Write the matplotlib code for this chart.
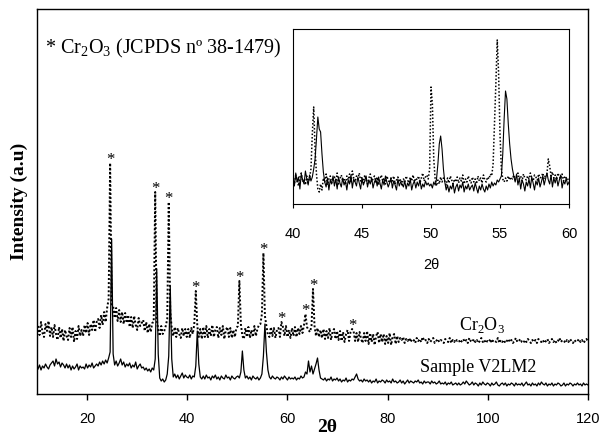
import numpy as np
import matplotlib
matplotlib.use('Agg')
import matplotlib.pyplot as plt

# scan grid of the main pattern (2theta, step 0.3)
two_theta = np.linspace(10.2, 120.0, 367)

# Cr2O3 reference pattern (dotted), arbitrary units
cr2o3 = [
    68, 59, 72, 61, 57, 70, 63, 73, 58, 67,
    57, 69, 60, 54, 67, 56, 65, 53, 64, 58,
    54, 66, 57, 67, 52, 63, 55, 68, 58, 64,
    58, 69, 61, 71, 59, 70, 64, 74, 62, 72,
    75, 66, 79, 69, 82, 72, 86, 95, 231, 90,
    88, 76, 86, 73, 84, 72, 82, 70, 81, 71,
    79, 67, 77, 66, 78, 69, 64, 76, 68, 71,
    74, 63, 72, 61, 70, 62, 71, 72, 202, 75,
    64, 58, 68, 60, 63, 68, 75, 192, 82, 66,
    58, 67, 57, 66, 60, 56, 66, 58, 65, 57,
    65, 56, 66, 60, 70, 103, 68, 57, 65, 55,
    67, 57, 68, 56, 65, 58, 69, 57, 64, 67,
    56, 66, 59, 68, 55, 64, 67, 57, 66, 56,
    64, 57, 66, 68, 113, 70, 58, 55, 66, 57,
    67, 56, 64, 57, 68, 58, 65, 69, 70, 80,
    141, 78, 68, 59, 57, 67, 58, 66, 56, 64,
    66, 57, 72, 67, 58, 68, 57, 64, 56, 66,
    58, 67, 57, 66, 60, 68, 61, 69, 80, 67,
    64, 62, 68, 105, 68, 58, 66, 57, 64, 56,
    65, 55, 63, 56, 66, 54, 62, 65, 55, 63,
    54, 63, 53, 62, 52, 60, 64, 53, 62, 65,
    63, 53, 61, 52, 62, 55, 51, 61, 53, 63,
    50, 61, 52, 60, 49, 58, 62, 51, 60, 52,
    60, 50, 58, 51, 61, 49, 57, 60, 50, 58,
    52, 56, 54, 57, 51, 55, 53, 56, 52, 55,
    54, 51, 56, 53, 55, 52, 57, 53, 54, 51,
    55, 52, 54, 56, 51, 53, 55, 52, 54, 53,
    51, 55, 53, 52, 56, 51, 54, 52, 55, 53,
    54, 51, 53, 55, 52, 54, 51, 56, 53, 52,
    55, 52, 54, 51, 53, 56, 52, 54, 51, 53,
    52, 55, 51, 54, 53, 52, 56, 51, 54, 52,
    54, 51, 53, 55, 52, 54, 51, 53, 56, 52,
    53, 55, 52, 51, 54, 52, 55, 53, 51, 54,
    52, 54, 51, 55, 53, 52, 54, 51, 53, 55,
    51, 53, 55, 52, 54, 51, 53, 56, 52, 54,
    53, 51, 54, 52, 55, 53, 51, 54, 52, 53,
    55, 52, 54, 51, 53, 55, 52,
]

# sample V2LM2 (solid)
v2lm2 = [
    25, 29, 24, 28, 26, 30, 27, 25, 29, 31,
    33, 28, 35, 30, 32, 27, 31, 29, 26, 30,
    26, 29, 24, 28, 25, 27, 30, 24, 28, 26,
    27, 25, 30, 26, 29, 27, 31, 26, 28, 30,
    28, 32, 29, 33, 30, 34, 31, 36, 42, 155,
    40, 29, 33, 28, 31, 35, 29, 32, 27, 30,
    28, 31, 26, 29, 27, 32, 25, 28, 30, 26,
    27, 24, 26, 23, 25, 22, 26, 24, 35, 125,
    40, 16, 13, 15, 12, 14, 20, 38, 108, 35,
    17, 20, 16, 19, 15, 18, 21, 16, 19, 17,
    16, 19, 15, 18, 17, 28, 63, 30, 17, 15,
    18, 15, 19, 16, 17, 14, 18, 16, 19, 15,
    17, 14, 18, 16, 15, 19, 16, 17, 14, 18,
    16, 15, 17, 18, 16, 22, 43, 24, 16, 18,
    15, 17, 14, 18, 16, 15, 17, 14, 16, 20,
    38, 70, 42, 24, 17, 15, 18, 16, 15, 17,
    16, 14, 17, 15, 18, 16, 14, 17, 15, 16,
    15, 17, 14, 16, 15, 18, 16, 17, 22, 20,
    33, 22, 28, 20, 25, 30, 36, 24, 16, 15,
    14, 16, 13, 15, 14, 17, 13, 15, 14, 16,
    13, 15, 12, 14, 13, 16, 12, 14, 13, 15,
    14, 17, 20, 15, 13, 14, 12, 15, 13, 14,
    12, 14, 11, 13, 12, 15, 11, 13, 12, 14,
    13, 11, 14, 12, 13, 11, 15, 12, 13, 11,
    12, 14, 11, 13, 10, 12, 14, 11, 13, 12,
    11, 13, 12, 14, 11, 12, 10, 13, 11, 12,
    12, 10, 13, 11, 12, 10, 11, 13, 10, 11,
    10, 12, 9, 11, 10, 12, 9, 10, 11, 9,
    11, 9, 10, 12, 10, 13, 11, 9, 10, 12,
    9, 11, 10, 8, 11, 9, 12, 10, 9, 11,
    10, 8, 11, 9, 10, 12, 9, 8, 10, 11,
    9, 11, 8, 10, 9, 11, 10, 8, 11, 9,
    10, 9, 11, 8, 10, 12, 9, 10, 8, 11,
    9, 10, 8, 11, 9, 12, 10, 9, 11, 8,
    10, 9, 11, 8, 10, 9, 11, 10, 8, 9,
    11, 8, 10, 9, 11, 10, 8, 10, 9, 11,
    9, 10, 8, 11, 9, 10, 9,
]

cr2o3_peaks = [24.6, 33.6, 36.3, 41.7, 50.4, 55.2, 58.8, 63.6, 65.1, 72.9]

# inset, 40-60 deg, step 0.1
inset_theta = np.linspace(40.0, 60.0, 201)
inset_cr2o3 = [
    26, 20, 29, 23, 18, 27, 31, 22, 25, 19,
    28, 21, 26, 35, 70, 97, 55, 30, 15, 12,
    20, 14, 26, 22, 30, 19, 25, 28, 21, 24,
    27, 22, 31, 20, 25, 29, 23, 26, 19, 28,
    24, 30, 21, 33, 26, 22, 28, 25, 31, 23,
    27, 21, 29, 24, 20, 26, 30, 22, 25, 28,
    22, 27, 19, 25, 29, 23, 26, 20, 28, 24,
    21, 26, 23, 28, 20, 24, 27, 22, 25, 19,
    25, 22, 28, 24, 21, 27, 23, 29, 22, 26,
    24, 28, 21, 26, 31, 23, 27, 29, 25, 35,
    117, 100, 45, 25, 18, 24, 20, 27, 22, 26,
    23, 19, 26, 21, 28, 24, 20, 25, 22, 27,
    21, 26, 23, 29, 20, 25, 22, 28, 24, 21,
    27, 22, 25, 20, 28, 23, 26, 21, 29, 24,
    22, 27, 25, 30, 28, 40, 80, 120, 164, 130,
    70, 35, 25, 22, 26, 23, 28, 24, 27, 25,
    29, 24, 27, 31, 25, 28, 23, 30, 26, 24,
    28, 25, 31, 26, 23, 29, 27, 24, 30, 26,
    27, 31, 25, 29, 30, 45, 38, 28, 32, 26,
    29, 24, 31, 27, 25, 30, 23, 28, 26, 24,
    27,
]
inset_v2lm2 = [
    28, 18, 31, 22, 27, 15, 30, 24, 20, 33,
    25, 19, 29, 23, 27, 35, 45, 65, 87, 75,
    72, 50, 32, 22, 17, 26, 14, 24, 20, 28,
    18, 25, 15, 27, 21, 17, 26, 19, 23, 14,
    24, 20, 29, 16, 25, 22, 18, 27, 21, 15,
    26, 19, 23, 28, 17, 24, 20, 26, 16, 22,
    25, 18, 27, 21, 15, 24, 19, 28, 22, 17,
    21, 26, 16, 23, 19, 14, 25, 18, 22, 20,
    17, 23, 15, 21, 18, 25, 14, 20, 23, 16,
    22, 18, 24, 15, 20, 17, 23, 19, 21, 18,
    20, 16, 22, 19, 25, 40, 60, 68, 55, 35,
    22, 14, 19, 12, 18, 15, 21, 11, 17, 20,
    13, 19, 16, 22, 12, 18, 15, 20, 14, 17,
    19, 13, 21, 16, 11, 18, 14, 20, 15, 12,
    18, 14, 20, 16, 22, 18, 21, 19, 24, 22,
    25, 28, 50, 85, 113, 105, 80, 60, 45, 35,
    28, 22, 30, 19, 26, 15, 24, 20, 13, 22,
    18, 25, 16, 27, 21, 14, 23, 19, 26, 17,
    22, 28, 19, 25, 31, 24, 20, 29, 17, 26,
    21, 27, 18, 24, 29, 16, 23, 20, 26, 19,
    22,
]

plt.rcParams['font.family'] = 'Liberation Serif'
plt.rcParams['mathtext.fontset'] = 'custom'
plt.rcParams['mathtext.rm'] = 'Liberation Serif'
W, H = 601, 439

fig = plt.figure(figsize=(W / 100, H / 100), dpi=100)
ax = fig.add_axes([37 / W, 44 / H, 551 / W, 385 / H])
ax.plot(two_theta, v2lm2, color='black', lw=0.9)
ax.plot(two_theta, cr2o3, color='black', lw=1.4, linestyle=(0, (1, 1.1)))
ax.set_xlim(10, 120)
ax.set_ylim(0, 385)
ax.set_yticks([])
ax.set_xticks([20, 40, 60, 80, 100, 120])
ax.tick_params(axis='x', direction='out', length=4, width=1, pad=8, labelsize=10.5)
for lab in ax.get_xticklabels():
    lab.set_fontfamily('Liberation Sans')
for s in ax.spines.values():
    s.set_linewidth(1.0)

for p in cr2o3_peaks:
    ax.text(p, np.interp(p, two_theta, cr2o3), '*', ha='center', va='baseline', fontsize=12)

fig.text(45 / W, 1 - 48 / H, r'* Cr$_\mathregular{2}$O$_\mathregular{3}$ (JCPDS nº 38-1479)',
         fontsize=14.5, va='center', ha='left')
fig.text(482 / W, 1 - 325 / H, r'Cr$_\mathregular{2}$O$_\mathregular{3}$', fontsize=13, ha='center', va='center')
fig.text(478 / W, 1 - 367 / H, 'Sample V2LM2', fontsize=13, ha='center', va='center')
fig.text(19 / W, 1 - 201 / H, 'Intensity (a.u)', rotation=90, fontweight='bold', fontsize=14,
         ha='center', va='center')
fig.text(327 / W, 1 - 428 / H, '2θ', fontweight='bold', fontsize=14, ha='center', va='center')

# inset
axin = fig.add_axes([293 / W, 234 / H, 276 / W, 175 / H])
axin.plot(inset_theta, inset_v2lm2, color='black', lw=0.8)
axin.plot(inset_theta, inset_cr2o3, color='black', lw=1.1, linestyle=(0, (1, 1.3)))
axin.set_xlim(40, 60)
axin.set_ylim(0, 175)
axin.set_yticks([])
axin.set_xticks([40, 45, 50, 55, 60])
axin.tick_params(axis='x', direction='out', length=3, width=0.8, pad=13, labelsize=10.5)
for lab in axin.get_xticklabels():
    lab.set_fontfamily('Liberation Sans')
for s in axin.spines.values():
    s.set_linewidth(0.8)
fig.text(431 / W, 1 - 265 / H, '2θ', family='Liberation Sans', fontsize=10.5, ha='center', va='center')

plt.savefig('out.png', dpi=100)
